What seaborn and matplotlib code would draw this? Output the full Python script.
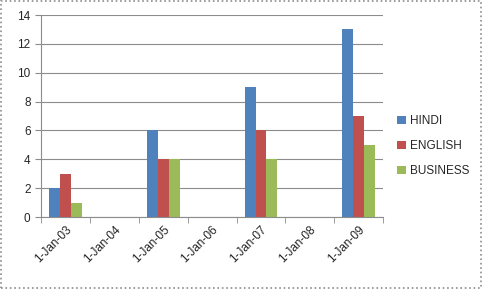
import pandas as pd
import matplotlib.pyplot as plt
import seaborn as sns
from matplotlib.ticker import FixedLocator

dates = ['1-Jan-03', '1-Jan-04', '1-Jan-05', '1-Jan-06', '1-Jan-07', '1-Jan-08', '1-Jan-09']
hindi = [2, 0, 6, 0, 9, 0, 13]
english = [3, 0, 4, 0, 6, 0, 7]
business = [1, 0, 4, 0, 4, 0, 5]

# long format for seaborn
df = pd.DataFrame({
    'date': dates * 3,
    'value': hindi + english + business,
    'subject': ['HINDI'] * 7 + ['ENGLISH'] * 7 + ['BUSINESS'] * 7,
})

sns.set_style('white')
plt.rcParams['font.family'] = ['Liberation Sans', 'DejaVu Sans']

fig = plt.figure(figsize=(4.82, 2.89), dpi=100)
ax = fig.add_axes([0.085, 0.249, 0.71, 0.699])

palette = {'HINDI': '#4F81BD', 'ENGLISH': '#C0504D', 'BUSINESS': '#9BBB59'}
sns.barplot(data=df, x='date', y='value', hue='subject', palette=palette,
            width=0.67, ax=ax, saturation=1, legend=True, linewidth=0)

ax.set_ylim(0, 14)
ax.set_yticks(range(0, 15, 2))
ax.set_xlim(-0.5, 6.5)
ax.grid(axis='y', color='#8c8c8c', linewidth=0.8)
ax.set_axisbelow(True)
ax.set_xlabel('')
ax.set_ylabel('')

for s in ['top', 'right']:
    ax.spines[s].set_visible(False)
ax.spines['left'].set_color('#8c8c8c')
ax.spines['bottom'].set_color('#8c8c8c')

# tick marks between categories, like excel
ax.xaxis.set_minor_locator(FixedLocator([i - 0.5 for i in range(8)]))
ax.tick_params(axis='x', which='minor', length=4, color='#8c8c8c', direction='out', bottom=True)
ax.tick_params(axis='x', which='major', length=0, labelsize=8.5, pad=5)
ax.tick_params(axis='y', length=4, color='#8c8c8c', direction='out', left=True, labelsize=8.5)
plt.setp(ax.get_xticklabels(), rotation=45, ha='right', rotation_mode='anchor')

ax.legend(loc='center left', bbox_to_anchor=(1.01, 0.35), frameon=False,
          fontsize=8.5, handlelength=0.7, handleheight=0.7, labelspacing=1.1,
          handletextpad=0.4)

# outer border
fig.patches.append(plt.Rectangle((0.002, 0.003), 0.996, 0.994, transform=fig.transFigure,
                                 fill=False, edgecolor='#8c8c8c', linewidth=1.2, linestyle=':'))

fig.savefig('out.png', dpi=100)
